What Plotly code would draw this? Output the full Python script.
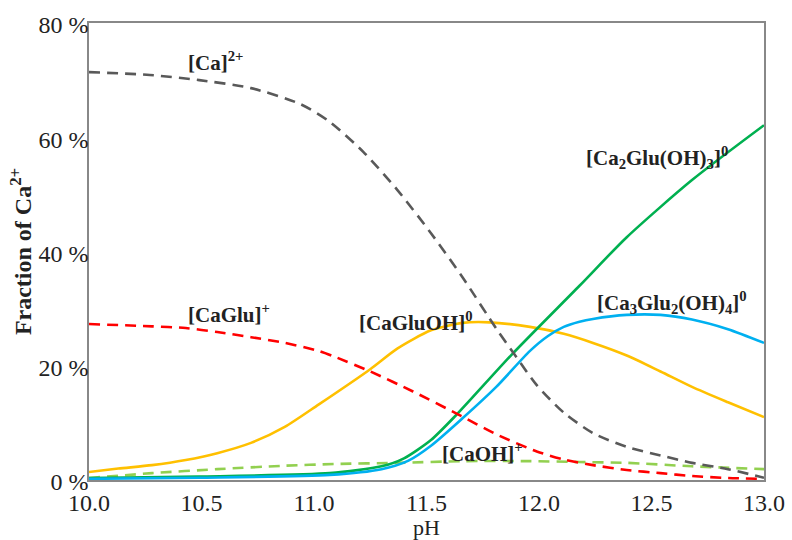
import plotly.graph_objects as go

# ---------------- data ----------------
ph_ca = [10.0, 10.27, 10.49, 10.72, 10.94, 11.07, 11.22, 11.37, 11.52, 11.66, 11.81, 11.90, 11.99, 12.11, 12.24, 12.39, 12.54, 12.68, 12.84, 13.0]
ca = [71.4, 70.9, 70.0, 68.6, 65.8, 62.7, 57.4, 50.8, 43.2, 35.5, 26.5, 21.5, 16.6, 11.8, 8.2, 5.8, 4.3, 3.0, 1.9, 0.4]

ph_caglu = [10.0, 10.28, 10.43, 10.57, 10.72, 10.87, 11.02, 11.09, 11.25, 11.44, 11.64, 11.81, 11.99, 12.11, 12.24, 12.39, 12.54, 12.68, 12.84, 13.0]
caglu = [27.3, 26.9, 26.6, 25.9, 25.0, 24.0, 22.6, 21.6, 19.0, 15.5, 11.5, 8.0, 5.0, 3.6, 2.6, 1.75, 1.2, 0.7, 0.35, 0.2]

ph_cagluoh = [10.0, 10.13, 10.28, 10.43, 10.57, 10.72, 10.87, 11.02, 11.25, 11.37, 11.52, 11.66, 11.78, 11.96, 12.11, 12.24, 12.39, 12.54, 12.68, 12.84, 13.0]
cagluoh = [1.4, 2.0, 2.6, 3.5, 4.7, 6.5, 9.3, 13.2, 19.4, 23.0, 26.2, 27.5, 27.6, 26.8, 25.6, 24.0, 21.8, 19.0, 16.3, 13.6, 11.0]

ph_ca2 = [10.0, 10.49, 11.07, 11.30, 11.40, 11.52, 11.64, 11.88, 12.18, 12.39, 12.68, 13.0]
ca2glu = [0.35, 0.6, 1.2, 2.4, 3.8, 7.0, 11.7, 22.0, 34.0, 42.5, 52.5, 62.1]

ph_ca3 = [10.0, 10.49, 11.07, 11.30, 11.42, 11.52, 11.66, 11.81, 11.96, 12.04, 12.11, 12.18, 12.24, 12.39, 12.54, 12.68, 12.84, 13.0]
ca3glu2 = [0.2, 0.4, 0.9, 1.9, 3.4, 6.0, 10.8, 16.3, 22.6, 25.2, 26.8, 27.7, 28.2, 28.9, 28.9, 28.1, 26.4, 24.0]

ph_caoh = [10.0, 10.28, 10.57, 10.87, 11.09, 11.37, 11.66, 11.96, 12.18, 12.39, 12.68, 13.0]
caoh = [0.35, 1.2, 1.9, 2.5, 2.8, 3.0, 3.3, 3.3, 3.15, 3.0, 2.4, 1.9]

y_tickvals = [0, 20, 40, 60, 80]
y_ticktext = ["0 %", "20 %", "40 %", "60 %", "80 %"]
x_tickvals = [10.0, 10.5, 11.0, 11.5, 12.0, 12.5, 13.0]

labels = [
    ("[Ca]<sup>2+</sup>", 10.43, 73.2),
    ("[CaGlu]<sup>+</sup>", 10.43, 29.2),
    ("[CaGluOH]<sup>0</sup>", 11.19, 27.7),
    ("[CaOH]<sup>+</sup>", 11.56, 4.9),
    ("[Ca<sub>2</sub>Glu(OH)<sub>3</sub>]<sup>0</sup>", 12.20, 56.4),
    ("[Ca<sub>3</sub>Glu<sub>2</sub>(OH)<sub>4</sub>]<sup>0</sup>", 12.25, 31.0),
]

FONT = "Liberation Serif, Times New Roman, serif"

fig = go.Figure()

def add(x, y, color, dash=None, name=""):
    fig.add_trace(go.Scatter(
        x=x, y=y, mode="lines", name=name,
        line=dict(color=color, width=2.6, dash=dash, shape="spline", smoothing=0.7),
        showlegend=False, hoverinfo="skip"))

add(ph_caoh, caoh, "#92D050", "11px,7px", "CaOH")
add(ph_cagluoh, cagluoh, "#FFC000", None, "CaGluOH")
add(ph_ca2, ca2glu, "#00B050", None, "Ca2Glu(OH)3")
add(ph_ca3, ca3glu2, "#00B0F0", None, "Ca3Glu2(OH)4")
add(ph_caglu, caglu, "#FF0000", "11px,7px", "CaGlu")
add(ph_ca, ca, "#595959", "11px,7px", "Ca")

for txt, xx, yy in labels:
    fig.add_annotation(x=xx, y=yy, xref="x", yref="y", text="<b>" + txt + "</b>",
                       showarrow=False, xanchor="left", yanchor="middle",
                       font=dict(family=FONT, size=21, color="#222"))

fig.update_layout(
    width=792, height=540,
    margin=dict(l=89, r=28, t=23, b=60),
    paper_bgcolor="white", plot_bgcolor="white",
    font=dict(family=FONT, color="#222"),
)
fig.update_xaxes(
    range=[10, 13], tickvals=x_tickvals, tickformat=".1f",
    showline=True, mirror=True, linecolor="#888", linewidth=1.5,
    showgrid=False, zeroline=False, ticks="",
    tickfont=dict(family=FONT, size=24, color="#222"),
    title=dict(text="pH", font=dict(family=FONT, size=22, color="#222"), standoff=0),
    automargin=False,
)
fig.update_yaxes(
    range=[0, 80], tickvals=y_tickvals, ticktext=y_ticktext,
    showline=True, mirror=True, linecolor="#888", linewidth=1.5,
    showgrid=False, zeroline=False, ticks="",
    ticklabelstandoff=-6, ticklabelshift=2,
    tickfont=dict(family=FONT, size=24, color="#222"),
    title=dict(text="<b>Fraction of Ca<sup>2+</sup></b>", font=dict(family=FONT, size=24, color="#222"), standoff=0),
    automargin=False,
)

fig.write_html("out.html", config={"displayModeBar": False},
               post_script="document.body.style.margin='0';document.body.style.overflow='hidden';")
